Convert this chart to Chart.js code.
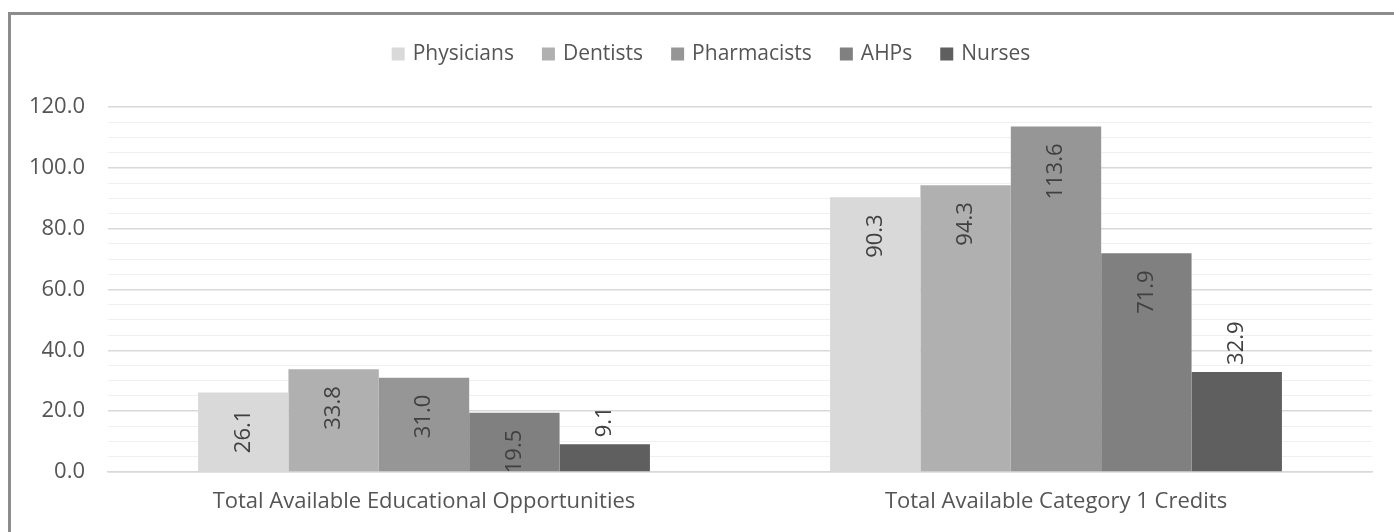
<!DOCTYPE html>
<html>
<head>
<meta charset="utf-8">
<script src="https://cdn.jsdelivr.net/npm/chart.js@4/dist/chart.umd.min.js"></script>
<style>
  html, body { margin: 0; padding: 0; background: #fff; overflow: hidden; }
  #wrap { position: relative; width: 1394px; height: 532px; }
  #frame {
    position: absolute; left: 8px; top: 12px; width: 1500px; height: 600px;
    border-left: 3px solid #8c8c8c; border-top: 3px solid #8c8c8c;
    pointer-events: none;
  }
  canvas { position: absolute; left: 0; top: 0; }
</style>
</head>
<body>
<div id="wrap">
  <canvas id="chart" width="1394" height="532"></canvas>
  <div id="frame"></div>
</div>
<script>
  'use strict';

  const categories = ['Total Available Educational Opportunities', 'Total Available Category 1 Credits'];
  const seriesNames = ['Physicians', 'Dentists', 'Pharmacists', 'AHPs', 'Nurses'];
  const physicians = [26.1, 90.3];
  const dentists = [33.8, 94.3];
  const pharmacists = [31.0, 113.6];
  const ahps = [19.5, 71.9];
  const nurses = [9.1, 32.9];
  const seriesValues = [physicians, dentists, pharmacists, ahps, nurses];

  const seriesColors = ['#d9d9d9', '#b0b0b0', '#969696', '#808080', '#5f5f5f'];
  // Excel put the Nurses labels outside the bar, the others inside end
  const labelOutside = [false, false, false, false, true];

  const FONT = '"Open Sans", "Liberation Sans", sans-serif';
  const FONT_SIZE = 22;
  const LEGEND_SIZE = 21;
  const TEXT = '#555555';

  // legend drawn by hand so the chart area stays put
  const legendPlugin = {
    id: 'topLegend',
    afterDraw: function (chart) {
      const ctx = chart.ctx;
      ctx.save();
      ctx.font = LEGEND_SIZE + 'px ' + FONT;
      ctx.textBaseline = 'middle';
      ctx.textAlign = 'left';
      const box = 13, gapText = 8, gapItem = 28;
      let total = 0;
      const widths = seriesNames.map(function (n) { return ctx.measureText(n).width; });
      widths.forEach(function (w, i) {
        total += box + gapText + w + (i < widths.length - 1 ? gapItem : 0);
      });
      let x = 711 - total / 2;
      const cy = 54;
      seriesNames.forEach(function (n, i) {
        ctx.fillStyle = seriesColors[i];
        ctx.fillRect(x, cy - box / 2, box, box);
        x += box + gapText;
        ctx.fillStyle = TEXT;
        ctx.fillText(n, x, cy);
        x += widths[i] + gapItem;
      });
      ctx.restore();
    }
  };

  const labelPlugin = {
    id: 'barLabels',
    afterDatasetsDraw: function (chart) {
      const ctx = chart.ctx;
      ctx.save();
      ctx.font = FONT_SIZE + 'px ' + FONT;
      ctx.fillStyle = '#404040';
      ctx.textBaseline = 'middle';
      chart.data.datasets.forEach(function (ds, i) {
        const meta = chart.getDatasetMeta(i);
        meta.data.forEach(function (bar, j) {
          const txt = ds.data[j].toFixed(1);
          ctx.save();
          ctx.translate(bar.x, bar.y);
          ctx.rotate(-Math.PI / 2);
          if (labelOutside[i]) {
            ctx.textAlign = 'left';
            ctx.fillText(txt, 7, 0);
          } else {
            ctx.textAlign = 'right';
            ctx.fillText(txt, -17, 0);
          }
          ctx.restore();
        });
      });
      ctx.restore();
    }
  };

  const datasets = seriesNames.map(function (name, i) {
    return {
      label: name,
      data: seriesValues[i],
      backgroundColor: seriesColors[i],
      borderWidth: 0,
      barPercentage: 1.0,
      categoryPercentage: 0.715
    };
  });

  new Chart(document.getElementById('chart'), {
    type: 'bar',
    data: {
      labels: categories,
      datasets: datasets
    },
    options: {
      responsive: false,
      animation: false,
      devicePixelRatio: 1,
      layout: {
        padding: { top: 107, right: 22, bottom: 0, left: 0 }
      },
      plugins: {
        legend: { display: false },
        tooltip: { enabled: false }
      },
      scales: {
        x: {
          grid: { display: false, drawTicks: false },
          border: { display: true, color: '#d9d9d9', width: 1.5 },
          ticks: {
            color: TEXT,
            font: { family: FONT, size: FONT_SIZE },
            padding: 17,
            maxRotation: 0
          },
          afterFit: function (s) { s.height = 60; }
        },
        y: {
          min: 0,
          max: 120,
          grid: {
            drawTicks: false,
            color: function (c) {
              return (c.tick && c.tick.value % 20 === 0) ? '#d9d9d9' : '#f0f0f0';
            },
            lineWidth: function (c) {
              return (c.tick && c.tick.value % 20 === 0) ? 1.5 : 1;
            }
          },
          border: { display: false },
          ticks: {
            stepSize: 5,
            autoSkip: false,
            color: TEXT,
            font: { family: FONT, size: FONT_SIZE },
            padding: 23,
            callback: function (v) { return v % 20 === 0 ? v.toFixed(1) : ''; }
          },
          afterFit: function (s) { s.width = 108; }
        }
      }
    },
    plugins: [legendPlugin, labelPlugin]
  });
</script>
</body>
</html>
